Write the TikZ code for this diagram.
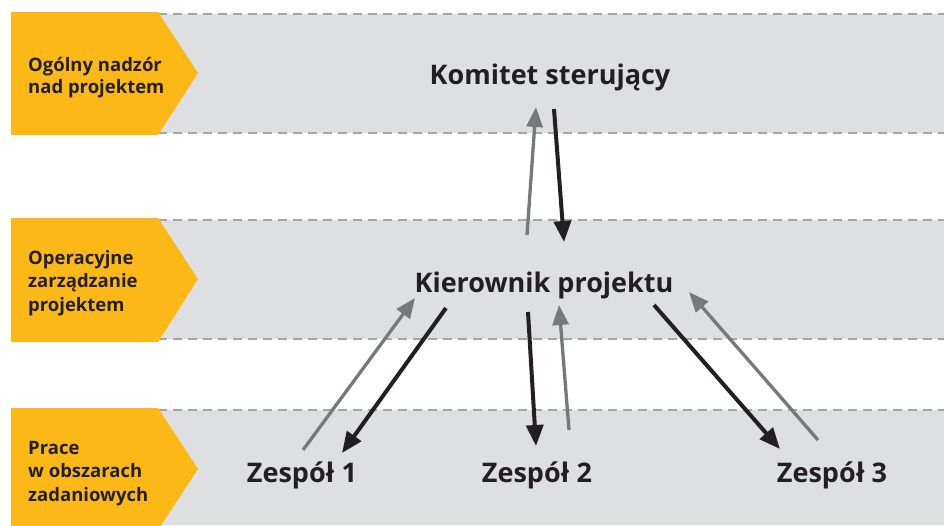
\documentclass[tikz,border=0pt]{standalone}
\usepackage{fontspec}
\setmainfont{Open Sans}
\usetikzlibrary{arrows.meta}
\definecolor{tagyellow}{HTML}{FBB817}
\definecolor{bandgrey}{HTML}{DEDFE1}
\definecolor{dashgrey}{HTML}{A5A6A9}
\definecolor{upgrey}{HTML}{77787B}
\definecolor{downblack}{HTML}{231F20}
\tikzset{
  tag/.style={fill=tagyellow, draw=none},
  band/.style={fill=bandgrey, draw=none},
  bandedge/.style={draw=dashgrey, line width=2.5pt, dash pattern=on 8.5pt off 6.5pt},
  taglabel/.style={anchor=base west, align=left, font=\bfseries\fontsize{18.5}{23.5}\selectfont, text=downblack, inner sep=0pt},
  role/.style={anchor=base, font=\bfseries\fontsize{27}{30}\selectfont, text=downblack, inner sep=0pt},
  report/.style={draw=upgrey, line width=3.3pt, -{Triangle[length=20pt, width=16pt]}},
  order/.style={draw=downblack, line width=4pt, -{Triangle[length=21pt, width=17pt]}},
}
\begin{document}
\begin{tikzpicture}[x=1pt, y=-1pt]
\useasboundingbox (0,0) rectangle (944,525);
% top level: steering
\fill[band] (158,14) rectangle (944,133);
\draw[bandedge] (158,14) -- (944,14);
\draw[bandedge] (158,133) -- (944,133);
\fill[tag] (11,12) -- (158,12) -- (198,73) -- (158,135) -- (11,135) -- cycle;
% middle level: project management
\fill[band] (158,220) rectangle (944,339);
\draw[bandedge] (158,220) -- (944,220);
\draw[bandedge] (158,339) -- (944,339);
\fill[tag] (11,218) -- (158,218) -- (198,279) -- (158,342) -- (11,342) -- cycle;
% bottom level: work packages
\fill[band] (158,410) rectangle (944,525);
\draw[bandedge] (158,410) -- (944,410);
\fill[tag] (11,408) -- (158,408) -- (198,469) -- (158,530) -- (11,530) -- cycle;

% level captions (anchored on the baseline of the last line)
\node[taglabel, font=\bfseries\fontsize{18.5}{22}\selectfont] (t1) at (28,93) {Ogólny nadzór\\nad projektem};
\node[taglabel] (t2) at (28,311) {Operacyjne\\zarządzanie\\projektem};
\node[taglabel] (t3) at (28,501) {Prace\\w obszarach\\zadaniowych};

% roles
\node[role] (ks) at (550,84) {Komitet sterujący};
\node[role] (kp) at (544,292) {Kierownik projektu};
\node[role] (z1) at (302,482) {Zespół 1};
\node[role] (z2) at (537,482) {Zespół 2};
\node[role] (z3) at (832,482) {Zespół 3};

% arrow end points
\coordinate (ksIn)  at (536,107);
\coordinate (ksOut) at (554,109);
\coordinate (kpUp)  at (527,235);
\coordinate (kpIn)  at (564,242);
\coordinate (kpA1)  at (415,298);
\coordinate (kpB1)  at (446,308);
\coordinate (kpB2)  at (528,312);
\coordinate (kpA2)  at (559,305);
\coordinate (kpB3)  at (654,305);
\coordinate (kpA3)  at (689,292);
\coordinate (z1Up)  at (303,450);
\coordinate (z1In)  at (342,453);
\coordinate (z2In)  at (536,446);
\coordinate (z2Up)  at (569,430);
\coordinate (z3In)  at (780,449);
\coordinate (z3Up)  at (818,440);

% reporting (grey) and directing (black) arrows
\draw[report] (kpUp) -- (ksIn);
\draw[order]  (ksOut) -- (kpIn);
\draw[report] (z1Up) -- (kpA1);
\draw[order]  (kpB1) -- (z1In);
\draw[order]  (kpB2) -- (z2In);
\draw[report] (z2Up) -- (kpA2);
\draw[order]  (kpB3) -- (z3In);
\draw[report] (z3Up) -- (kpA3);
\end{tikzpicture}
\end{document}
